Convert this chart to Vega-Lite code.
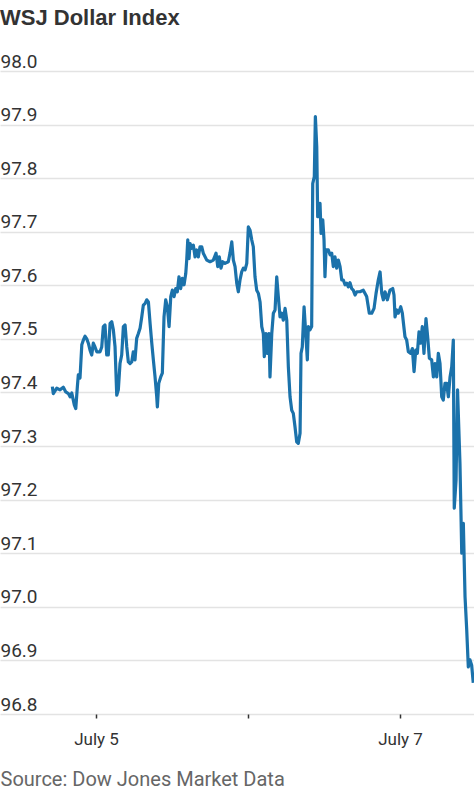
{
  "$schema": "https://vega.github.io/schema/vega-lite/v6.json",
  "width": 474,
  "height": 643,
  "autosize": {"type": "none"},
  "padding": {"top": 71, "left": 0, "right": 0, "bottom": 76},
  "background": "white",
  "title": {
    "text": "WSJ Dollar Index",
    "anchor": "start",
    "frame": "group",
    "offset": 5,
    "baseline": "alphabetic",
    "font": "Liberation Sans",
    "fontWeight": "bold",
    "fontSize": 22,
    "color": "#333333"
  },
  "data": {
    "values": [
      {"t": "2023-07-04T17:06Z", "v": 97.411},
      {"t": "2023-07-04T17:15Z", "v": 97.398},
      {"t": "2023-07-04T17:48Z", "v": 97.408},
      {"t": "2023-07-04T18:19Z", "v": 97.405},
      {"t": "2023-07-04T18:50Z", "v": 97.410},
      {"t": "2023-07-04T19:13Z", "v": 97.401},
      {"t": "2023-07-04T19:38Z", "v": 97.398},
      {"t": "2023-07-04T19:54Z", "v": 97.392},
      {"t": "2023-07-04T20:10Z", "v": 97.399},
      {"t": "2023-07-04T20:34Z", "v": 97.377},
      {"t": "2023-07-04T20:48Z", "v": 97.370},
      {"t": "2023-07-04T21:03Z", "v": 97.411},
      {"t": "2023-07-04T21:12Z", "v": 97.433},
      {"t": "2023-07-04T21:28Z", "v": 97.427},
      {"t": "2023-07-04T21:45Z", "v": 97.489},
      {"t": "2023-07-04T22:00Z", "v": 97.498},
      {"t": "2023-07-04T22:16Z", "v": 97.505},
      {"t": "2023-07-04T22:32Z", "v": 97.500},
      {"t": "2023-07-04T22:47Z", "v": 97.492},
      {"t": "2023-07-04T23:03Z", "v": 97.479},
      {"t": "2023-07-04T23:19Z", "v": 97.470},
      {"t": "2023-07-04T23:34Z", "v": 97.492},
      {"t": "2023-07-04T23:50Z", "v": 97.485},
      {"t": "2023-07-05T00:07Z", "v": 97.476},
      {"t": "2023-07-05T00:38Z", "v": 97.476},
      {"t": "2023-07-05T00:54Z", "v": 97.485},
      {"t": "2023-07-05T01:09Z", "v": 97.523},
      {"t": "2023-07-05T01:25Z", "v": 97.526},
      {"t": "2023-07-05T01:41Z", "v": 97.470},
      {"t": "2023-07-05T01:56Z", "v": 97.470},
      {"t": "2023-07-05T02:13Z", "v": 97.529},
      {"t": "2023-07-05T02:29Z", "v": 97.532},
      {"t": "2023-07-05T02:44Z", "v": 97.517},
      {"t": "2023-07-05T03:00Z", "v": 97.485},
      {"t": "2023-07-05T03:16Z", "v": 97.395},
      {"t": "2023-07-05T03:31Z", "v": 97.405},
      {"t": "2023-07-05T03:47Z", "v": 97.454},
      {"t": "2023-07-05T04:03Z", "v": 97.470},
      {"t": "2023-07-05T04:19Z", "v": 97.523},
      {"t": "2023-07-05T04:35Z", "v": 97.526},
      {"t": "2023-07-05T04:51Z", "v": 97.485},
      {"t": "2023-07-05T05:06Z", "v": 97.457},
      {"t": "2023-07-05T05:22Z", "v": 97.454},
      {"t": "2023-07-05T05:38Z", "v": 97.457},
      {"t": "2023-07-05T05:53Z", "v": 97.476},
      {"t": "2023-07-05T06:09Z", "v": 97.461},
      {"t": "2023-07-05T06:25Z", "v": 97.501},
      {"t": "2023-07-05T06:41Z", "v": 97.510},
      {"t": "2023-07-05T06:57Z", "v": 97.520},
      {"t": "2023-07-05T07:13Z", "v": 97.541},
      {"t": "2023-07-05T07:28Z", "v": 97.563},
      {"t": "2023-07-05T07:44Z", "v": 97.566},
      {"t": "2023-07-05T08:00Z", "v": 97.573},
      {"t": "2023-07-05T08:16Z", "v": 97.569},
      {"t": "2023-07-05T08:32Z", "v": 97.529},
      {"t": "2023-07-05T08:48Z", "v": 97.492},
      {"t": "2023-07-05T09:03Z", "v": 97.461},
      {"t": "2023-07-05T09:19Z", "v": 97.429},
      {"t": "2023-07-05T09:35Z", "v": 97.392},
      {"t": "2023-07-05T09:41Z", "v": 97.373},
      {"t": "2023-07-05T09:54Z", "v": 97.417},
      {"t": "2023-07-05T10:13Z", "v": 97.429},
      {"t": "2023-07-05T10:28Z", "v": 97.436},
      {"t": "2023-07-05T10:44Z", "v": 97.541},
      {"t": "2023-07-05T11:00Z", "v": 97.573},
      {"t": "2023-07-05T11:16Z", "v": 97.560},
      {"t": "2023-07-05T11:32Z", "v": 97.523},
      {"t": "2023-07-05T11:48Z", "v": 97.579},
      {"t": "2023-07-05T12:03Z", "v": 97.591},
      {"t": "2023-07-05T12:19Z", "v": 97.579},
      {"t": "2023-07-05T12:35Z", "v": 97.594},
      {"t": "2023-07-05T12:50Z", "v": 97.588},
      {"t": "2023-07-05T13:06Z", "v": 97.616},
      {"t": "2023-07-05T13:22Z", "v": 97.594},
      {"t": "2023-07-05T13:38Z", "v": 97.613},
      {"t": "2023-07-05T13:54Z", "v": 97.601},
      {"t": "2023-07-05T14:10Z", "v": 97.622},
      {"t": "2023-07-05T14:19Z", "v": 97.647},
      {"t": "2023-07-05T14:29Z", "v": 97.685},
      {"t": "2023-07-05T14:41Z", "v": 97.650},
      {"t": "2023-07-05T14:51Z", "v": 97.678},
      {"t": "2023-07-05T15:07Z", "v": 97.669},
      {"t": "2023-07-05T15:22Z", "v": 97.675},
      {"t": "2023-07-05T15:38Z", "v": 97.653},
      {"t": "2023-07-05T15:54Z", "v": 97.666},
      {"t": "2023-07-05T16:09Z", "v": 97.653},
      {"t": "2023-07-05T16:25Z", "v": 97.672},
      {"t": "2023-07-05T16:41Z", "v": 97.672},
      {"t": "2023-07-05T16:56Z", "v": 97.660},
      {"t": "2023-07-05T17:29Z", "v": 97.647},
      {"t": "2023-07-05T18:00Z", "v": 97.644},
      {"t": "2023-07-05T18:31Z", "v": 97.647},
      {"t": "2023-07-05T18:57Z", "v": 97.660},
      {"t": "2023-07-05T19:13Z", "v": 97.635},
      {"t": "2023-07-05T19:28Z", "v": 97.653},
      {"t": "2023-07-05T19:44Z", "v": 97.632},
      {"t": "2023-07-05T20:00Z", "v": 97.644},
      {"t": "2023-07-05T20:22Z", "v": 97.641},
      {"t": "2023-07-05T20:53Z", "v": 97.644},
      {"t": "2023-07-05T21:09Z", "v": 97.660},
      {"t": "2023-07-05T21:26Z", "v": 97.681},
      {"t": "2023-07-05T21:41Z", "v": 97.647},
      {"t": "2023-07-05T21:57Z", "v": 97.635},
      {"t": "2023-07-05T22:13Z", "v": 97.604},
      {"t": "2023-07-05T22:28Z", "v": 97.588},
      {"t": "2023-07-05T22:44Z", "v": 97.610},
      {"t": "2023-07-05T23:00Z", "v": 97.625},
      {"t": "2023-07-05T23:16Z", "v": 97.632},
      {"t": "2023-07-05T23:32Z", "v": 97.629},
      {"t": "2023-07-05T23:48Z", "v": 97.641},
      {"t": "2023-07-06T00:03Z", "v": 97.709},
      {"t": "2023-07-06T00:19Z", "v": 97.703},
      {"t": "2023-07-06T00:35Z", "v": 97.685},
      {"t": "2023-07-06T00:50Z", "v": 97.672},
      {"t": "2023-07-06T01:06Z", "v": 97.616},
      {"t": "2023-07-06T01:22Z", "v": 97.591},
      {"t": "2023-07-06T01:38Z", "v": 97.585},
      {"t": "2023-07-06T01:54Z", "v": 97.569},
      {"t": "2023-07-06T02:10Z", "v": 97.523},
      {"t": "2023-07-06T02:25Z", "v": 97.510},
      {"t": "2023-07-06T02:34Z", "v": 97.467},
      {"t": "2023-07-06T02:51Z", "v": 97.510},
      {"t": "2023-07-06T03:03Z", "v": 97.473},
      {"t": "2023-07-06T03:19Z", "v": 97.510},
      {"t": "2023-07-06T03:28Z", "v": 97.429},
      {"t": "2023-07-06T03:45Z", "v": 97.510},
      {"t": "2023-07-06T04:00Z", "v": 97.548},
      {"t": "2023-07-06T04:16Z", "v": 97.554},
      {"t": "2023-07-06T04:32Z", "v": 97.616},
      {"t": "2023-07-06T04:47Z", "v": 97.579},
      {"t": "2023-07-06T05:03Z", "v": 97.541},
      {"t": "2023-07-06T05:19Z", "v": 97.548},
      {"t": "2023-07-06T05:34Z", "v": 97.535},
      {"t": "2023-07-06T05:51Z", "v": 97.557},
      {"t": "2023-07-06T06:07Z", "v": 97.535},
      {"t": "2023-07-06T06:22Z", "v": 97.448},
      {"t": "2023-07-06T06:38Z", "v": 97.392},
      {"t": "2023-07-06T06:54Z", "v": 97.367},
      {"t": "2023-07-06T07:09Z", "v": 97.361},
      {"t": "2023-07-06T07:25Z", "v": 97.336},
      {"t": "2023-07-06T07:41Z", "v": 97.308},
      {"t": "2023-07-06T07:56Z", "v": 97.305},
      {"t": "2023-07-06T08:13Z", "v": 97.324},
      {"t": "2023-07-06T08:22Z", "v": 97.473},
      {"t": "2023-07-06T08:34Z", "v": 97.485},
      {"t": "2023-07-06T08:51Z", "v": 97.560},
      {"t": "2023-07-06T09:07Z", "v": 97.510},
      {"t": "2023-07-06T09:22Z", "v": 97.461},
      {"t": "2023-07-06T09:31Z", "v": 97.523},
      {"t": "2023-07-06T09:47Z", "v": 97.517},
      {"t": "2023-07-06T10:03Z", "v": 97.523},
      {"t": "2023-07-06T10:13Z", "v": 97.790},
      {"t": "2023-07-06T10:28Z", "v": 97.803},
      {"t": "2023-07-06T10:38Z", "v": 97.915},
      {"t": "2023-07-06T10:51Z", "v": 97.859},
      {"t": "2023-07-06T11:00Z", "v": 97.728},
      {"t": "2023-07-06T11:13Z", "v": 97.734},
      {"t": "2023-07-06T11:22Z", "v": 97.753},
      {"t": "2023-07-06T11:32Z", "v": 97.697},
      {"t": "2023-07-06T11:48Z", "v": 97.722},
      {"t": "2023-07-06T12:00Z", "v": 97.685},
      {"t": "2023-07-06T12:09Z", "v": 97.616},
      {"t": "2023-07-06T12:19Z", "v": 97.666},
      {"t": "2023-07-06T12:41Z", "v": 97.666},
      {"t": "2023-07-06T12:57Z", "v": 97.657},
      {"t": "2023-07-06T13:13Z", "v": 97.660},
      {"t": "2023-07-06T13:28Z", "v": 97.635},
      {"t": "2023-07-06T13:44Z", "v": 97.653},
      {"t": "2023-07-06T14:00Z", "v": 97.632},
      {"t": "2023-07-06T14:16Z", "v": 97.647},
      {"t": "2023-07-06T14:32Z", "v": 97.635},
      {"t": "2023-07-06T14:48Z", "v": 97.610},
      {"t": "2023-07-06T15:03Z", "v": 97.610},
      {"t": "2023-07-06T15:19Z", "v": 97.601},
      {"t": "2023-07-06T15:35Z", "v": 97.604},
      {"t": "2023-07-06T15:50Z", "v": 97.597},
      {"t": "2023-07-06T16:06Z", "v": 97.605},
      {"t": "2023-07-06T16:22Z", "v": 97.594},
      {"t": "2023-07-06T16:37Z", "v": 97.591},
      {"t": "2023-07-06T16:54Z", "v": 97.582},
      {"t": "2023-07-06T17:10Z", "v": 97.588},
      {"t": "2023-07-06T17:41Z", "v": 97.588},
      {"t": "2023-07-06T18:12Z", "v": 97.591},
      {"t": "2023-07-06T18:44Z", "v": 97.579},
      {"t": "2023-07-06T19:09Z", "v": 97.548},
      {"t": "2023-07-06T19:32Z", "v": 97.548},
      {"t": "2023-07-06T19:54Z", "v": 97.557},
      {"t": "2023-07-06T20:13Z", "v": 97.585},
      {"t": "2023-07-06T20:34Z", "v": 97.610},
      {"t": "2023-07-06T20:51Z", "v": 97.625},
      {"t": "2023-07-06T21:07Z", "v": 97.585},
      {"t": "2023-07-06T21:22Z", "v": 97.573},
      {"t": "2023-07-06T21:38Z", "v": 97.588},
      {"t": "2023-07-06T22:00Z", "v": 97.573},
      {"t": "2023-07-06T22:25Z", "v": 97.591},
      {"t": "2023-07-06T22:51Z", "v": 97.594},
      {"t": "2023-07-06T23:03Z", "v": 97.582},
      {"t": "2023-07-06T23:13Z", "v": 97.541},
      {"t": "2023-07-06T23:29Z", "v": 97.554},
      {"t": "2023-07-06T23:44Z", "v": 97.548},
      {"t": "2023-07-07T00:07Z", "v": 97.560},
      {"t": "2023-07-07T00:22Z", "v": 97.548},
      {"t": "2023-07-07T00:47Z", "v": 97.504},
      {"t": "2023-07-07T01:03Z", "v": 97.498},
      {"t": "2023-07-07T01:19Z", "v": 97.476},
      {"t": "2023-07-07T01:41Z", "v": 97.473},
      {"t": "2023-07-07T01:57Z", "v": 97.482},
      {"t": "2023-07-07T02:13Z", "v": 97.439},
      {"t": "2023-07-07T02:29Z", "v": 97.479},
      {"t": "2023-07-07T02:44Z", "v": 97.473},
      {"t": "2023-07-07T03:00Z", "v": 97.513},
      {"t": "2023-07-07T03:16Z", "v": 97.492},
      {"t": "2023-07-07T03:31Z", "v": 97.523},
      {"t": "2023-07-07T03:47Z", "v": 97.473},
      {"t": "2023-07-07T04:06Z", "v": 97.538},
      {"t": "2023-07-07T04:22Z", "v": 97.504},
      {"t": "2023-07-07T04:38Z", "v": 97.464},
      {"t": "2023-07-07T05:00Z", "v": 97.461},
      {"t": "2023-07-07T05:16Z", "v": 97.429},
      {"t": "2023-07-07T05:32Z", "v": 97.454},
      {"t": "2023-07-07T05:48Z", "v": 97.429},
      {"t": "2023-07-07T06:03Z", "v": 97.473},
      {"t": "2023-07-07T06:19Z", "v": 97.454},
      {"t": "2023-07-07T06:35Z", "v": 97.392},
      {"t": "2023-07-07T06:50Z", "v": 97.386},
      {"t": "2023-07-07T07:06Z", "v": 97.417},
      {"t": "2023-07-07T07:22Z", "v": 97.417},
      {"t": "2023-07-07T07:38Z", "v": 97.392},
      {"t": "2023-07-07T07:54Z", "v": 97.429},
      {"t": "2023-07-07T08:10Z", "v": 97.448},
      {"t": "2023-07-07T08:25Z", "v": 97.498},
      {"t": "2023-07-07T08:34Z", "v": 97.184},
      {"t": "2023-07-07T08:51Z", "v": 97.237},
      {"t": "2023-07-07T09:05Z", "v": 97.405},
      {"t": "2023-07-07T09:28Z", "v": 97.268},
      {"t": "2023-07-07T09:45Z", "v": 97.100},
      {"t": "2023-07-07T10:00Z", "v": 97.156},
      {"t": "2023-07-07T10:16Z", "v": 97.019},
      {"t": "2023-07-07T10:32Z", "v": 96.957},
      {"t": "2023-07-07T10:47Z", "v": 96.888},
      {"t": "2023-07-07T11:03Z", "v": 96.901},
      {"t": "2023-07-07T11:19Z", "v": 96.891},
      {"t": "2023-07-07T11:34Z", "v": 96.858}
    ]
  },
  "mark": {"type": "line", "color": "#1b72ab", "strokeWidth": 3.2, "strokeJoin": "round", "clip": true},
  "encoding": {
    "x": {
      "field": "t",
      "type": "temporal",
      "scale": {
        "type": "utc",
        "nice": false,
        "domain": [
          {"year": 2023, "month": 7, "date": 4, "hours": 8, "minutes": 50, "utc": true},
          {"year": 2023, "month": 7, "date": 7, "hours": 11, "minutes": 41, "utc": true}
        ]
      },
      "axis": {
        "values": [
          {"year": 2023, "month": 7, "date": 5, "utc": true},
          {"year": 2023, "month": 7, "date": 6, "utc": true},
          {"year": 2023, "month": 7, "date": 7, "utc": true}
        ],
        "labelExpr": "utcdate(datum.value) == 6 ? '' : 'July ' + utcdate(datum.value)",
        "grid": false,
        "domain": false,
        "ticks": true,
        "tickSize": 4,
        "tickColor": "#333333",
        "tickWidth": 1.5,
        "labelFont": "Roboto",
        "labelFontSize": 17,
        "labelColor": "#333333",
        "labelBaseline": "alphabetic",
        "labelPadding": 26,
        "labelFlush": false,
        "labelOverlap": false,
        "title": "Source: Dow Jones Market Data",
        "titleFont": "Roboto",
        "titleFontSize": 20,
        "titleFontWeight": "normal",
        "titleColor": "#666666",
        "titleAnchor": "start",
        "titleAlign": "left",
        "titleBaseline": "alphabetic",
        "titleX": 0,
        "titleY": 71
      }
    },
    "y": {
      "field": "v",
      "type": "quantitative",
      "scale": {"domain": [96.8, 98.0], "nice": false, "zero": false},
      "axis": {
        "values": [96.8, 96.9, 97.0, 97.1, 97.2, 97.3, 97.4, 97.5, 97.6, 97.7, 97.8, 97.9, 98.0],
        "format": ".1f",
        "title": null,
        "domain": false,
        "ticks": false,
        "tickSize": 0,
        "labelAlign": "left",
        "labelBaseline": "alphabetic",
        "labelPadding": 0,
        "labelOffset": -4,
        "labelBound": false,
        "labelOverlap": false,
        "labelFont": "Roboto",
        "labelFontSize": 19,
        "labelColor": "#333333",
        "grid": true,
        "gridColor": "#e3e3e3",
        "gridWidth": 1.5
      }
    }
  },
  "config": {"view": {"stroke": null}}
}
